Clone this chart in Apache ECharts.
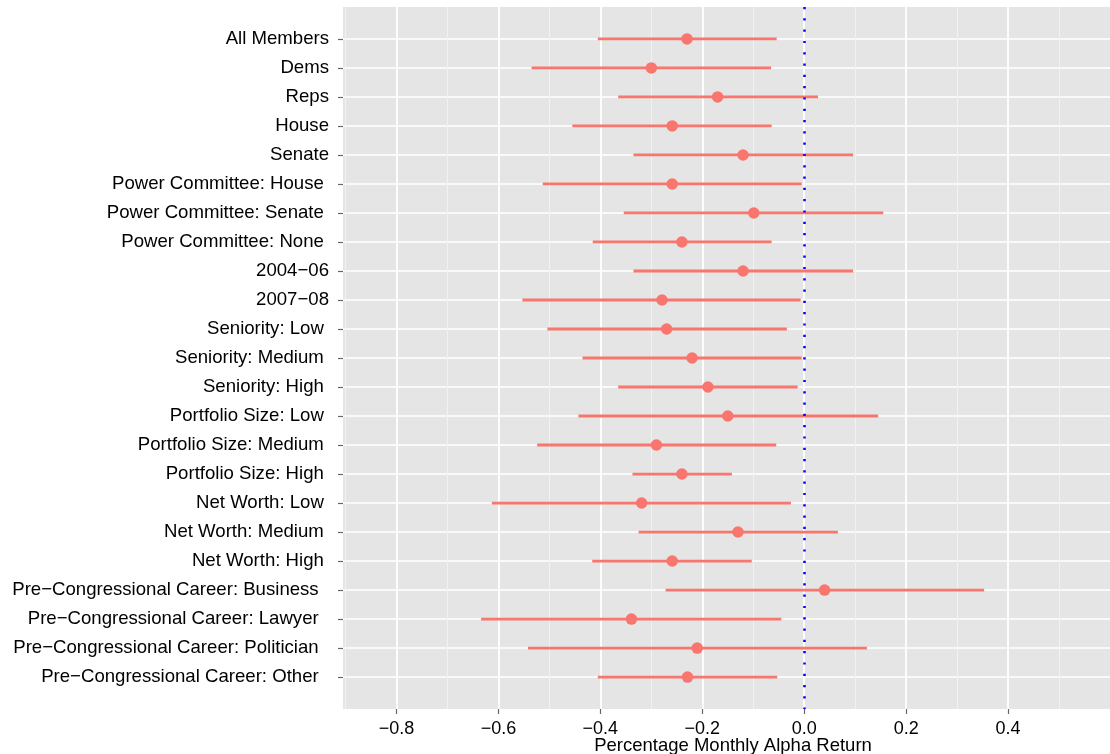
<!DOCTYPE html>
<html>
<head>
<meta charset="utf-8">
<title>Percentage Monthly Alpha Return</title>
<script src="https://cdn.jsdelivr.net/npm/echarts@6/dist/echarts.min.js"></script>
<style>
    html, body { margin: 0; padding: 0; background: #fff; }
    #chart { width: 1110px; height: 754px; }
</style>
</head>
<body>
<div id="chart"></div>
<script>
// Groups, top to bottom
const categories = [
    'All Members', 'Dems', 'Reps', 'House', 'Senate',
    'Power Committee: House ', 'Power Committee: Senate ', 'Power Committee: None ',
    '2004\u221206', '2007\u221208',
    'Seniority: Low ', 'Seniority: Medium ', 'Seniority: High ',
    'Portfolio Size: Low ', 'Portfolio Size: Medium ', 'Portfolio Size: High ',
    'Net Worth: Low ', 'Net Worth: Medium ', 'Net Worth: High ',
    'Pre\u2212Congressional Career: Business  ', 'Pre\u2212Congressional Career: Lawyer  ',
    'Pre\u2212Congressional Career: Politician  ', 'Pre\u2212Congressional Career: Other  '
];
// Estimates and interval bounds
const meanValues = [-0.230, -0.300, -0.170, -0.259, -0.120, -0.259, -0.099, -0.240, -0.120, -0.279,
    -0.270, -0.220, -0.189, -0.150, -0.290, -0.240, -0.319, -0.130, -0.259, 0.040, -0.339, -0.210, -0.229];
const lowerValues = [-0.405, -0.535, -0.365, -0.455, -0.335, -0.513, -0.354, -0.415, -0.335, -0.553,
    -0.504, -0.435, -0.365, -0.443, -0.524, -0.337, -0.613, -0.325, -0.416, -0.272, -0.634, -0.542, -0.405];
const upperValues = [-0.054, -0.065, 0.027, -0.064, 0.096, -0.005, 0.155, -0.064, 0.096, -0.007,
    -0.034, -0.005, -0.013, 0.145, -0.055, -0.142, -0.026, 0.066, -0.103, 0.353, -0.045, 0.123, -0.053];
// Axis ticks
const majorTicks = [-0.8, -0.6, -0.4, -0.2, 0.0, 0.2, 0.4];
const minorTicks = [-0.9, -0.7, -0.5, -0.3, -0.1, 0.1, 0.3, 0.5];
const rowTicks = categories.map((c, i) => i);

const font = "'Liberation Sans', Arial, sans-serif";
const salmon = '#F8766D';

const chart = echarts.init(document.getElementById('chart'));

const barData = categories.map((c, i) => [i, lowerValues[i], upperValues[i]]);
const pointData = categories.map((c, i) => [meanValues[i], i]);

const option = {
    animation: false,
    grid: {
        left: 343, right: 0, top: 7, bottom: 45,
        outerBoundsMode: 'none',
        containLabel: false,
        show: true, backgroundColor: '#E5E5E5', borderWidth: 0
    },
    xAxis: [{
        type: 'value',
        min: -0.905, max: 0.6,
        position: 'bottom',
        name: 'Percentage Monthly Alpha Return',
        nameLocation: 'middle',
        nameMoveOverlap: false,
        nameGap: 27,
        nameTextStyle: { fontFamily: font, fontSize: 18.5, color: '#000', padding: [0, 0, 0, 13] },
        axisLine: { show: false, onZero: false },
        axisTick: { show: true, length: 5, customValues: majorTicks, lineStyle: { color: '#666666', width: 1.2 } },
        axisLabel: {
            customValues: majorTicks,
            margin: 11,
            fontFamily: font, fontSize: 18, color: '#000',
            formatter: v => v.toFixed(1).replace('-', '\u2212')
        },
        splitLine: { show: true, lineStyle: { color: '#FFFFFF', width: 1.8 } }
    }, {
        type: 'value',
        min: -0.905, max: 0.6,
        position: 'top',
        axisLine: { show: false, onZero: false },
        axisTick: { show: false, customValues: minorTicks },
        axisLabel: { show: false, customValues: minorTicks },
        splitLine: { show: true, lineStyle: { color: '#F2F2F2', width: 1 } }
    }],
    yAxis: {
        type: 'value',
        inverse: true,
        min: -1.1, max: 23.1,
        axisLine: { show: false, onZero: false },
        axisTick: { show: true, length: 5, customValues: rowTicks, lineStyle: { color: '#666666', width: 1.2 } },
        axisLabel: {
            customValues: rowTicks,
            margin: 14,
            fontFamily: font, fontSize: 18.6, color: '#000',
            formatter: v => categories[Math.round(v)]
        },
        splitLine: { show: true, lineStyle: { color: '#FFFFFF', width: 1.6 } }
    },
    series: [{
        type: 'custom',
        xAxisIndex: 0,
        encode: { x: [1, 2], y: 0 },
        data: barData,
        renderItem: function (params, api) {
            const start = api.coord([api.value(1), api.value(0)]);
            const end = api.coord([api.value(2), api.value(0)]);
            return {
                type: 'line',
                shape: { x1: start[0], y1: start[1], x2: end[0], y2: end[1] },
                style: { stroke: salmon, lineWidth: 2.8 }
            };
        }
    }, {
        type: 'scatter',
        xAxisIndex: 0,
        symbolSize: 11.5,
        itemStyle: { color: salmon, opacity: 1 },
        data: pointData,
        markLine: {
            silent: true,
            symbol: 'none',
            label: { show: false },
            lineStyle: { color: '#0000FF', width: 2.5, type: [2.2, 9.1] },
            data: [{ xAxis: 0 }]
        }
    }]
};

chart.setOption(option);
window.addEventListener('resize', () => chart.resize());
</script>
</body>
</html>
